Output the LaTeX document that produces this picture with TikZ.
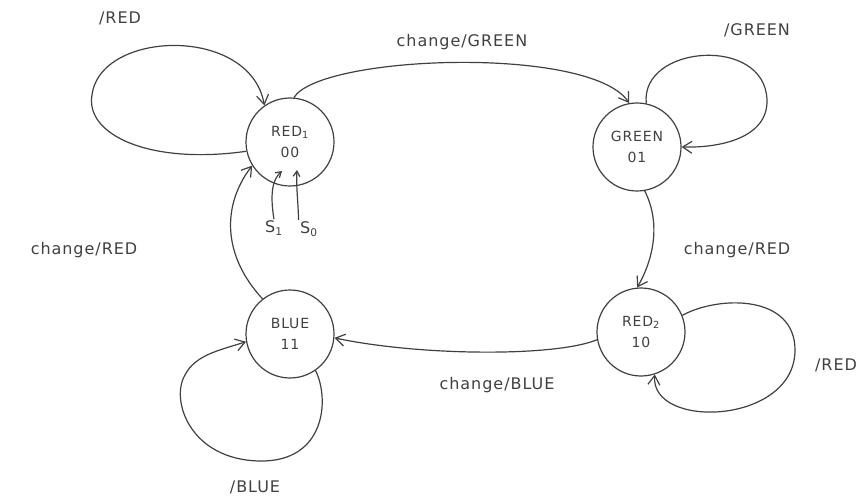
\documentclass[tikz,border=0pt]{standalone}
\usepackage{fontspec}
\setsansfont{DejaVu Sans}[LetterSpace=6]
\usetikzlibrary{arrows.meta}
\begin{document}
\begin{tikzpicture}[x=0.75pt,y=-0.75pt,
  ink/.style={draw=black!75, line width=0.9pt},
  arr/.style={ink, -{Straight Barb[length=7pt,width=9pt]}},
  state/.style={ink, circle, minimum size=66pt, inner sep=0pt, align=center,
    font=\sffamily\fontsize{10.5}{16}\selectfont, text=black!75},
  lbl/.style={font=\sffamily\fontsize{12}{14}\selectfont, text=black!75, inner sep=1pt}]
\useasboundingbox (0,0) rectangle (868,499);
% states
\node[state] (r1) at (290,142) {RED\textsubscript{1}\\00};
\node[state] (g)  at (637,147) {GREEN\\01};
\node[state] (b)  at (290,334) {BLUE\\11};
\node[state] (r2) at (641,332) {RED\textsubscript{2}\\10};
% transitions
\draw[arr] (r1.85) .. controls (320,55) and (590,45) .. (g.100);
\draw[arr] (g.-80) .. controls (662,225) and (652,262) .. (r2.95);
\draw[arr] (r2.190) .. controls (555,357) and (420,356) .. (b.-5);
\draw[arr] (b.128) .. controls (222,255) and (222,205) .. (r1.212);
% self loops
\draw[arr] (r1.192) .. controls (150,165) and (85,135) .. (92,95)
  .. controls (100,30) and (250,25) .. (r1.125);
\draw[arr] (g.78) .. controls (640,45) and (765,35) .. (767,100)
  .. controls (768,138) and (720,148) .. (g.0);
\draw[arr] (r2.22) .. controls (720,295) and (795,295) .. (795,350)
  .. controls (795,425) and (650,430) .. (r2.-72);
\draw[arr] (b.-55) .. controls (330,400) and (325,462) .. (260,461)
  .. controls (190,460) and (170,400) .. (185,375)
  .. controls (195,355) and (220,350) .. (b.190);
% labels
\node[lbl] (l1) at (120,18) {/RED};
\node[lbl] (l2) at (462,42) {change/GREEN};
\node[lbl] (l3) at (757,30) {/GREEN};
\node[lbl] (l4) at (84,250) {change/RED};
\node[lbl] (l5) at (737,250) {change/RED};
\node[lbl] (l6) at (497,385) {change/BLUE};
\node[lbl] (l7) at (255,487) {/BLUE};
\node[lbl] (l8) at (836,365) {/RED};
% state bit labels
\node[lbl] (s1) at (274,228) {S\textsubscript{1}};
\node[lbl] (s0) at (309,229) {S\textsubscript{0}};
\coordinate (b1) at (282,171);
\coordinate (b0) at (297,170);
\draw[ink, -{Straight Barb[length=4pt,width=5pt]}] (s1.north) .. controls (270,195) and (272,180) .. (b1);
\draw[ink, -{Straight Barb[length=4pt,width=5pt]}] (s0.north west) .. controls (298,200) and (296,185) .. (b0);
\end{tikzpicture}
\end{document}
